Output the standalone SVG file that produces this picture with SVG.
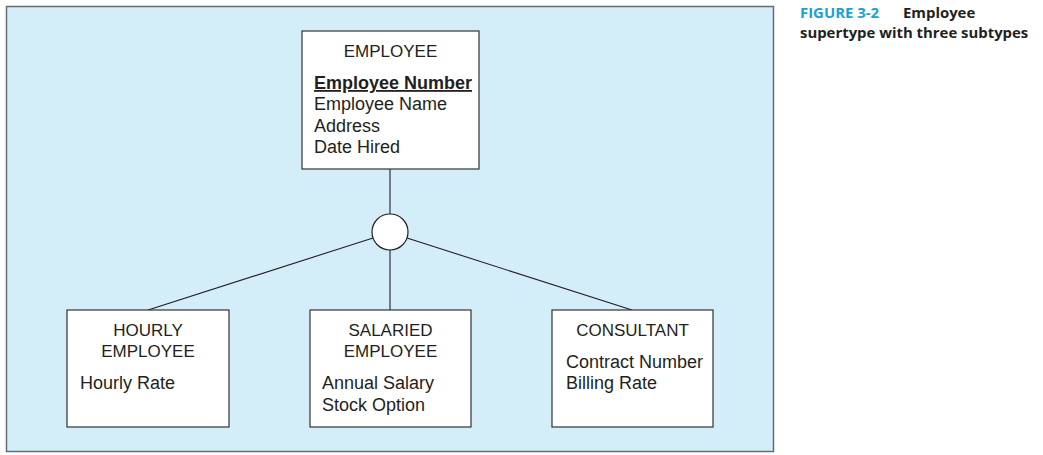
<svg xmlns="http://www.w3.org/2000/svg" width="1043" height="455" viewBox="0 0 1043 455">
<style>
.bg{fill:#d3edf9;stroke:#6b6b6b;stroke-width:1.5}
.box{fill:#fff;stroke:#333;stroke-width:1.2}
.t{font-family:"Liberation Sans",Arial,sans-serif;font-size:18px;fill:#231f20}
.c{text-anchor:middle;font-size:17px}
.b{font-weight:bold;text-decoration:underline}
.ln{stroke:#231f20;stroke-width:1.1;fill:none}
.cap{font-family:"Open Sans","Liberation Sans",sans-serif;font-size:14.9px;font-weight:bold;fill:#231f20}
</style>
<rect class="bg" x="6.5" y="6.5" width="767" height="445"/>
<g id="connectors">
<line class="ln" x1="390" y1="169" x2="390" y2="214"/>
<line class="ln" x1="373" y1="238" x2="148" y2="310"/>
<line class="ln" x1="390" y1="250" x2="390" y2="310"/>
<line class="ln" x1="407" y1="238" x2="632" y2="310"/>
</g>
<g id="employee">
<rect class="box" x="302" y="31" width="177" height="138"/>
<text class="t c" x="390.5" y="57">EMPLOYEE</text>
<text class="t b" x="314" y="89">Employee Number</text>
<text class="t" x="314" y="110">Employee Name</text>
<text class="t" x="314" y="132">Address</text>
<text class="t" x="314" y="153">Date Hired</text>
</g>
<g id="disjoint">
<circle cx="390" cy="232" r="18" fill="#fff" stroke="#231f20" stroke-width="1.2"/>
</g>
<g id="hourly">
<rect class="box" x="67" y="310" width="162" height="117"/>
<text class="t c" x="148" y="336">HOURLY</text>
<text class="t c" x="148" y="357">EMPLOYEE</text>
<text class="t" x="80" y="389">Hourly Rate</text>
</g>
<g id="salaried">
<rect class="box" x="310" y="310" width="161" height="117"/>
<text class="t c" x="390.5" y="336">SALARIED</text>
<text class="t c" x="390.5" y="357">EMPLOYEE</text>
<text class="t" x="322" y="389">Annual Salary</text>
<text class="t" x="322" y="411">Stock Option</text>
</g>
<g id="consultant">
<rect class="box" x="552" y="310" width="161" height="117"/>
<text class="t c" x="632.5" y="336">CONSULTANT</text>
<text class="t" x="566" y="368">Contract Number</text>
<text class="t" x="566" y="389">Billing Rate</text>
</g>
<g id="caption">
<text class="cap" x="800" y="18"><tspan fill="#1a9fd9">FIGURE 3-2</tspan><tspan x="903">Employee</tspan></text>
<text class="cap" x="800" y="38">supertype with three subtypes</text>
</g>
</svg>
